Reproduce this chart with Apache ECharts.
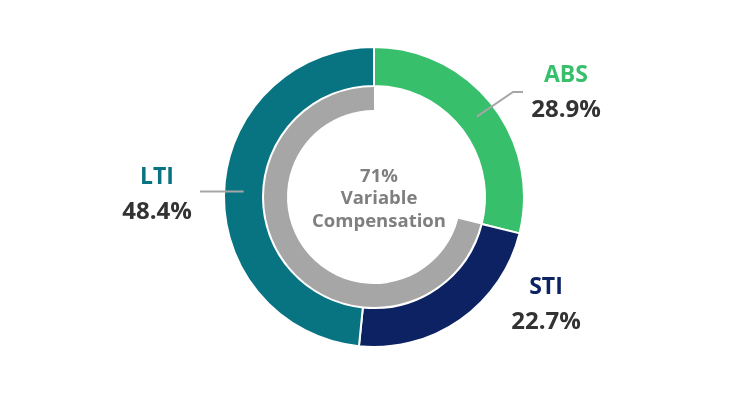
<!DOCTYPE html>
<html>
<head>
<meta charset="utf-8">
<script src="https://cdn.jsdelivr.net/npm/echarts@6/dist/echarts.min.js"></script>
<style>
  html, body { margin: 0; padding: 0; background: #fff; }
  #chart { width: 750px; height: 397px; }
</style>
</head>
<body>
<div id="chart"></div>
<script>
// outer ring: components of variable pay
const categories = ['ABS', 'STI', 'LTI'];
const shares = [28.9, 22.7, 48.4];
const colors = ['#37bf6b', '#0c2262', '#087482'];

// inner ring: share of variable compensation
const variableShare = 71;
const otherShare = 29;

// where each label block sits (centre of the two lines)
const labelPos = [[566, 93], [546, 305], [157, 195]];

const cx = 374, cy = 197;
const rOuter = [111, 150];
const rInner = [87, 110];

const chart = echarts.init(document.getElementById('chart'));

const rich = { v: { fontSize: 24, fontWeight: 'bold', color: '#333333', lineHeight: 35, fontFamily: 'Open Sans' } };
categories.forEach((c, i) => {
  rich['n' + i] = { fontSize: 23, fontWeight: 'bold', color: colors[i], lineHeight: 35, fontFamily: 'Open Sans' };
});

// mid angles of each slice (clockwise from top) for label lines
const total = shares.reduce((a, b) => a + b, 0);
let acc = 0;
const midAngles = shares.map(s => {
  const a = (acc + s / 2) / total * 2 * Math.PI;
  acc += s;
  return a;
});
const rMid = (rOuter[0] + rOuter[1]) / 2;
const midPoint = i => [cx + rMid * Math.sin(midAngles[i]), cy - rMid * Math.cos(midAngles[i])];

// leader lines drawn on top of the ring (ABS and LTI only)
const a0 = midPoint(0), a2 = midPoint(2);
const leaders = [
  [a0, [labelPos[0][0] - 53, labelPos[0][1] - 1], [labelPos[0][0] - 43, labelPos[0][1] - 1]],
  [[a2[0], a2[1] + 1], [labelPos[2][0] + 43, a2[1] + 1]]
];

chart.setOption({
  animation: false,
  title: {
    text: variableShare + '%\nVariable\nCompensation',
    left: cx,
    top: cy - 3,
    textAlign: 'center',
    textVerticalAlign: 'middle',
    textStyle: { fontFamily: 'Open Sans', fontSize: 18.5, fontWeight: 'bold', color: '#7f7f7f', lineHeight: 22.5 }
  },
  graphic: leaders.map(pts => ({
    type: 'polyline',
    z: 100,
    silent: true,
    shape: { points: pts },
    style: { stroke: '#a6a6a6', lineWidth: 2, fill: null }
  })),
  series: [
    {
      type: 'pie',
      center: [cx, cy],
      radius: rOuter,
      startAngle: 90,
      clockwise: true,
      silent: true,
      itemStyle: { borderColor: '#fff', borderWidth: 2 },
      label: {
        show: true,
        position: 'outside',
        align: 'center',
        formatter: p => '{n' + p.dataIndex + '|' + p.name + '}\n{v|' + p.value + '%}',
        rich: rich
      },
      labelLine: { show: false },
      labelLayout: function (params) {
        const pos = labelPos[params.dataIndex];
        return { x: pos[0], y: pos[1], align: 'center', verticalAlign: 'middle' };
      },
      data: categories.map((c, i) => ({
        name: c,
        value: shares[i],
        itemStyle: { color: colors[i] }
      }))
    },
    {
      type: 'pie',
      center: [cx, cy],
      radius: rInner,
      startAngle: 90,
      clockwise: false,
      silent: true,
      label: { show: false },
      labelLine: { show: false },
      data: [
        { name: 'Variable', value: variableShare, itemStyle: { color: '#a6a6a6' } },
        { name: 'Other', value: otherShare, itemStyle: { color: 'rgba(0,0,0,0)' } }
      ]
    }
  ]
});
</script>
</body>
</html>
